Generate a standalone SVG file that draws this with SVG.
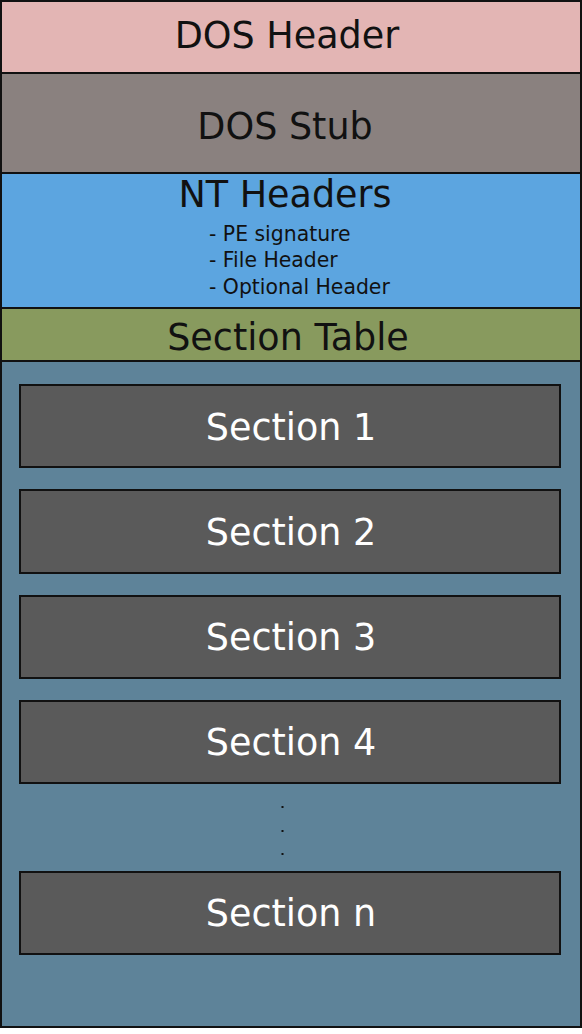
<svg xmlns="http://www.w3.org/2000/svg" width="582" height="1034" viewBox="0 0 582 1034">
<style>
.blk{stroke:#111;stroke-width:2}
.t{font-family:"DejaVu Sans",Verdana,sans-serif;font-size:36.5px;text-anchor:middle;fill:#111}
.w{fill:#fff}
.s{font-family:"DejaVu Sans",Verdana,sans-serif;font-size:20.4px;fill:#111}
.sec{fill:#5a5a5a}
</style>
<rect x="0" y="0" width="582" height="1034" fill="#ffffff"/>
<g id="dos-header">
<rect class="blk" x="1" y="1" width="580" height="72" fill="#e3b5b4"/>
<text class="t" x="287" y="48">DOS Header</text>
</g>
<g id="dos-stub">
<rect class="blk" x="1" y="73" width="580" height="100" fill="#8a817f"/>
<text class="t" x="285" y="139">DOS Stub</text>
</g>
<g id="nt-headers">
<rect class="blk" x="1" y="173" width="580" height="135" fill="#5ca5e0"/>
<text class="t" x="285" y="207">NT Headers</text>
<text class="s" x="209" y="241">- PE signature</text>
<text class="s" x="209" y="267">- File Header</text>
<text class="s" x="209" y="294">- Optional Header</text>
</g>
<g id="section-table">
<rect class="blk" x="1" y="308" width="580" height="53" fill="#889a5e"/>
<text class="t" x="288" y="350">Section Table</text>
</g>
<g id="sections-area">
<rect class="blk" x="1" y="361" width="580" height="666" fill="#5e8399"/>
</g>
<g id="section-1">
<rect class="blk sec" x="20" y="385" width="540" height="82"/>
<text class="t w" x="291" y="440">Section 1</text>
</g>
<g id="section-2">
<rect class="blk sec" x="20" y="490" width="540" height="83"/>
<text class="t w" x="291" y="545">Section 2</text>
</g>
<g id="section-3">
<rect class="blk sec" x="20" y="596" width="540" height="82"/>
<text class="t w" x="291" y="650">Section 3</text>
</g>
<g id="section-4">
<rect class="blk sec" x="20" y="701" width="540" height="82"/>
<text class="t w" x="291" y="755">Section 4</text>
</g>
<g id="ellipsis">
<rect x="281.5" y="806" width="2" height="2" fill="#111"/>
<rect x="281.5" y="830" width="2" height="2" fill="#111"/>
<rect x="281.5" y="853" width="2" height="2" fill="#111"/>
</g>
<g id="section-n">
<rect class="blk sec" x="20" y="872" width="540" height="82"/>
<text class="t w" x="291" y="926">Section n</text>
</g>
<g id="connectors"></g>
</svg>
